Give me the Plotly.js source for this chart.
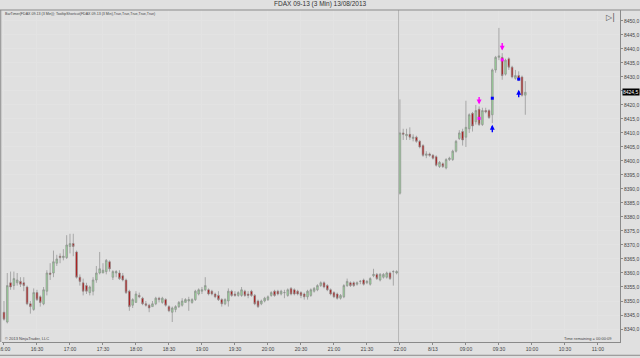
<!DOCTYPE html>
<html>
<head>
<meta charset="utf-8">
<script src="https://cdn.plot.ly/plotly-3.0.1.min.js"></script>
<style>
html,body{margin:0;padding:0;background:#e0e0e0;}
#chart{width:640px;height:358px;}
</style>
</head>
<body>
<div id="chart"></div>
<script>
// Bar numbers (3-minute bars, session gap collapsed as in the original chart)
const barOpen = [
8346,8342.5,8356.5,8355.5,8356.5,8357,8356.5,8355,8349,8347,
8353,8351.5,8349,8353.5,8360,8360,8363.5,8366,8365.5,8365.5,
8369.5,8370.5,8367.5,8358.5,8356.5,8355.5,8353,8353.5,8357.5,8360,
8360,8360.5,8364,8358.5,8360,8360,8359,8357.5,8353.5,8348.5,
8349.5,8352,8351,8349,8348.5,8348,8349,8351,8349.5,8350.5,
8348,8346,8347,8348,8348.5,8349.5,8350,8349.5,8350.5,8352.5,
8353.5,8354,8354,8353.5,8352.5,8352,8350.5,8349,8350,8353.5,
8352.5,8352,8352,8353.5,8352.5,8353.5,8352,8350,8349,8350,
8350.5,8352,8353.5,8353.5,8352.5,8353,8352,8354.5,8354,8353.5,
8353,8352.5,8351.5,8352,8353.5,8354,8355.5,8356.5,8355.5,8354,
8353,8352.5,8351,8351.5,8355.5,8356.5,8356.5,8356,8357,8357.5,
8356.5,8356,8359,8359.5,8357.5,8358.5,8358.5,8360,8360.5,8360,
8388.5,8410,8409,8409.5,8408,8408.5,8407,8405.5,8402,8402.5,
8402,8401.5,8398,8399,8397.5,8400.5,8400.5,8403.5,8408,8410.5,
8408.5,8411.5,8417,8414,8418.5,8413,8418,8418,8416.5,8432.5,
8437,8437,8431,8436.5,8433.5,8429.5,8430.5,8430,8423.5
];
const barHigh = [
8350,8360,8360.5,8360.5,8360,8358.5,8358.5,8355.5,8350,8354.5,
8354,8352,8355,8361,8363.5,8368,8366.5,8367,8368.5,8373.5,
8374,8374,8368,8359.5,8358,8356.5,8355.5,8358.5,8362.5,8367.5,
8363.5,8365,8364.5,8361,8361,8361,8360,8358,8354,8351,
8353.5,8353,8351.5,8350,8349,8350,8351.5,8351.5,8351.5,8351,
8348.5,8348,8348.5,8350,8351,8351,8351.5,8351,8354,8354.5,
8355,8358.5,8354.5,8354,8353,8353.5,8351,8351,8354.5,8354,
8353.5,8353.5,8355,8354,8353.5,8354,8352.5,8350.5,8350.5,8351.5,
8352,8353.5,8354,8354,8354,8354,8354.5,8355,8354.5,8354,
8353.5,8353,8354,8354.5,8355,8356,8357,8357,8356,8354.5,
8353.5,8353,8352.5,8356,8358,8357,8357,8357,8357.5,8358,
8357.5,8358.5,8361.5,8360,8360,8360,8360.5,8360.5,8361,8361,
8422,8411.5,8411.5,8412,8409.5,8409,8407.5,8406,8403.5,8403,
8402.5,8402,8400,8399.5,8401,8401.5,8404,8407.5,8411,8411.5,
8421.5,8417,8417.5,8420,8419.5,8419,8419,8418.5,8433,8437.5,
8447.5,8438.5,8436.5,8437,8434,8432.5,8432,8430.5,8428.5
];
const barLow = [
8343,8342,8354,8354,8355.5,8355,8353.5,8348.5,8345.5,8346.5,
8350,8348,8348.5,8352,8357.5,8358.5,8362.5,8363.5,8364.5,8365,
8367,8366,8358,8355.5,8352,8352.5,8352,8352,8356.5,8359.5,
8360,8359.5,8360.5,8357.5,8358.5,8357.5,8357,8352.5,8346.5,8347.5,
8349.5,8351,8348.5,8348,8346,8348,8348.5,8349.5,8349,8348,
8346,8342.5,8346,8347.5,8348,8349.5,8346.5,8349,8350,8352,
8352.5,8353.5,8352,8352,8351,8350,8348,8348.5,8348,8351.5,
8351.5,8351.5,8351.5,8351.5,8351,8351.5,8348.5,8347.5,8348.5,8349.5,
8350,8351.5,8351.5,8352,8352,8351,8351.5,8352,8352,8352,
8351,8350.5,8350.5,8351.5,8353,8353.5,8355,8354.5,8353.5,8352,
8351,8350.5,8350.5,8351,8355,8355,8355,8355.5,8356,8355.5,
8356,8355.5,8358.5,8357.5,8357,8358,8358,8357.5,8355.5,8359.5,
8388,8407.5,8407.5,8407.5,8407,8406.5,8404.5,8401.5,8401,8401.5,
8400.5,8398,8397.5,8397.5,8397,8400,8400,8403,8407.5,8405.5,
8405,8410,8410.5,8413,8412.5,8412.5,8417,8415,8413.5,8431.5,
8436,8429,8430.5,8432.5,8429.5,8429,8428.5,8423,8416.5
];
const barClose = [
8343.5,8355.5,8355,8358,8357.5,8356,8355.5,8349,8348,8353,
8350.5,8349.5,8354,8360,8359.5,8364,8365,8365.5,8366,8370,
8370.5,8369.5,8358.5,8357,8353.5,8353.5,8355,8357.5,8360,8361.5,
8361,8364.5,8361.5,8360.5,8360.5,8358,8357.5,8353,8348,8350.5,
8352.5,8351.5,8349,8348.5,8347.5,8349,8351,8350.5,8351,8348.5,
8346.5,8347.5,8348,8349.5,8350,8350.5,8350.5,8350.5,8353.5,8354,
8354,8355.5,8352.5,8352.5,8351.5,8350.5,8349,8350.5,8353.5,8352,
8352,8353,8354,8352,8352,8352,8349,8348,8350,8351,
8351.5,8353,8352,8352.5,8353.5,8353,8354,8352.5,8352.5,8352.5,
8352,8351.5,8353.5,8354,8354.5,8355.5,8356.5,8355,8354,8352.5,
8351.5,8351,8352,8355.5,8357,8355.5,8355.5,8356.5,8357,8356,
8357,8358,8359.5,8358,8359.5,8359.5,8360,8358,8360.5,8360.5,
8410,8409.5,8409.5,8408.5,8408.5,8407,8405,8402,8402.5,8402,
8401,8398.5,8399.5,8398,8400.5,8401,8403.5,8407,8410,8407.5,
8412,8416.5,8412.5,8418,8413,8418,8417.5,8415.5,8432.5,8437,
8437.5,8430.5,8436,8433.5,8430,8430.5,8429,8423.5,8424.5
];
// time axis labels (every 10 bars)
const tickBars  = [0,10,20,30,40,50,60,70,80,90,100,110,120,130,140,150,160,170,180];
const tickTimes = ['16:00','16:30','17:00','17:30','18:00','18:30','19:00','19:30','20:00','20:30',
                   '21:00','21:30','22:00','8/13','09:00','09:30','10:00','10:30','11:00'];
const priceTicks = [8335,8340,8345,8350,8355,8360,8365,8370,8375,8380,8385,8390,8395,8400,
                    8405,8410,8415,8420,8425,8430,8435,8440,8445,8450];
// signal markers (arrow tip prices)
const shortArrowBars = [144,151];  const shortArrowPx = [8420.2,8439.4];
const longArrowBars  = [148,156];  const longArrowPx  = [8412.9,8425.4];
const shortDotBars = [144,151];    const shortDotPx = [8415.2,8436.1];
const longDotBars  = [148,156];    const longDotPx  = [8422.4,8429.2];
const lastPrice = 8424.5;
const sessionBreak = 119.6;

const bars = barOpen.map((_, i) => i);
const FONT = 'Liberation Sans, Arial, sans-serif';

const traces = [
  {
    type: 'candlestick', x: bars, open: barOpen, high: barHigh, low: barLow, close: barClose,
    increasing: {line: {color: '#8e8e8e', width: 0.7}, fillcolor: '#98d898'},
    decreasing: {line: {color: '#8e8e8e', width: 0.7}, fillcolor: '#b40000'},
    whiskerwidth: 0, hoverinfo: 'none', showlegend: false
  },
  {type: 'scatter', mode: 'markers', x: shortDotBars, y: shortDotPx, showlegend: false,
   marker: {symbol: 'square', size: 3, color: '#ff00ff'}, hoverinfo: 'none'},
  {type: 'scatter', mode: 'markers', x: longDotBars, y: longDotPx, showlegend: false,
   marker: {symbol: 'square', size: 3, color: '#0000ff'}, hoverinfo: 'none'}
];

const arrowAnn = (x, y, color, up) => ({
  x: x, y: y, xref: 'x', yref: 'y', text: '', showarrow: true,
  ax: 0, ay: up ? 9 : -9, arrowhead: 2, arrowsize: 0.7, arrowwidth: 1.4,
  arrowcolor: color, standoff: 0, startstandoff: 0
});

const layout = {
  width: 640, height: 358,
  margin: {l: 2, r: 20, t: 10, b: 16, pad: 0},
  paper_bgcolor: '#e0e0e0', plot_bgcolor: '#e0e0e0',
  font: {family: FONT, color: '#333'},
  showlegend: false,
  xaxis: {
    range: [-0.6, 186.7], tickvals: tickBars, ticktext: tickTimes, ticklabeloverflow: 'allow',
    tickfont: {size: 5, color: '#444'}, ticks: 'outside', ticklen: 2, tickcolor: '#888',
    showline: true, linecolor: '#8a8a8a', linewidth: 1,
    showgrid: true, gridcolor: '#e3e3e3', gridwidth: 1, zeroline: false,
    rangeslider: {visible: false}, fixedrange: true
  },
  yaxis: {
    side: 'right', range: [8335.36, 8453.9],
    tickvals: priceTicks, ticktext: priceTicks.map(v => v.toFixed(1).replace('.', ',')),
    tickfont: {size: 5, color: '#444'}, ticks: 'outside', ticklen: 2, tickcolor: '#888',
    showline: true, linecolor: '#8a8a8a', linewidth: 1,
    showgrid: true, gridcolor: '#e3e3e3', gridwidth: 1, zeroline: false, fixedrange: true
  },
  shapes: [
    {type: 'line', xref: 'x', yref: 'paper', x0: sessionBreak, x1: sessionBreak, y0: 0, y1: 1,
     line: {color: '#b4b4b4', width: 1}},
    {type: 'line', xref: 'paper', yref: 'paper', x0: -0.01, x1: 1.04, y0: 1, y1: 1,
     line: {color: '#8a8a8a', width: 1}},
    {type: 'line', xref: 'paper', yref: 'paper', x0: -0.002, x1: -0.002, y0: 0, y1: 1,
     line: {color: '#8a8a8a', width: 1}},
    {type: 'line', xref: 'paper', yref: 'paper', x0: -0.01, x1: 1.04, y0: -0.04, y1: -0.04,
     line: {color: '#8a8a8a', width: 1}}
  ],
  annotations: [
    {text: 'FDAX 09-13 (3 Min) 13/08/2013', xref: 'paper', yref: 'paper', x: 0.515, y: 1.0, yshift: 6,
     xanchor: 'center', yanchor: 'middle', showarrow: false, font: {size: 6.5, color: '#333'}},
    {text: 'BarTimer(FDAX 09-13 (3 Min)); TooltipShortcut(FDAX 09-13 (3 Min),True,True,True,True,True)',
     xref: 'paper', yref: 'paper', x: 0.002, y: 0.988, xanchor: 'left', yanchor: 'middle',
     showarrow: false, font: {size: 3.6, color: '#444'}},
    {text: '© 2013 NinjaTrader, LLC', xref: 'paper', yref: 'paper', x: 0.002, y: 0.012,
     xanchor: 'left', yanchor: 'middle', showarrow: false, font: {size: 4, color: '#444'}},
    {text: 'Time remaining = 00:00:09', xref: 'paper', yref: 'paper', x: 0.99, y: 0.012,
     xanchor: 'right', yanchor: 'middle', showarrow: false, font: {size: 4, color: '#444'}},
    {text: '▷|', xref: 'paper', yref: 'paper', x: 0.985, y: 0.978, xanchor: 'center', yanchor: 'middle',
     showarrow: false, font: {size: 8, color: '#555', family: 'DejaVu Sans'}},
    {text: lastPrice.toFixed(1).replace('.', ','), xref: 'paper', yref: 'y', x: 1.0, y: lastPrice,
     xanchor: 'left', yanchor: 'middle', xshift: 2, showarrow: false, bgcolor: '#000',
     font: {size: 5, color: '#fff'}, borderpad: 0}
  ]
  .concat(shortArrowBars.map((b, k) => arrowAnn(b, shortArrowPx[k], '#ff00ff', false)))
  .concat(longArrowBars.map((b, k) => arrowAnn(b, longArrowPx[k], '#0000ff', true)))
};

Plotly.newPlot('chart', traces, layout, {staticPlot: true, displayModeBar: false});
</script>
</body>
</html>
